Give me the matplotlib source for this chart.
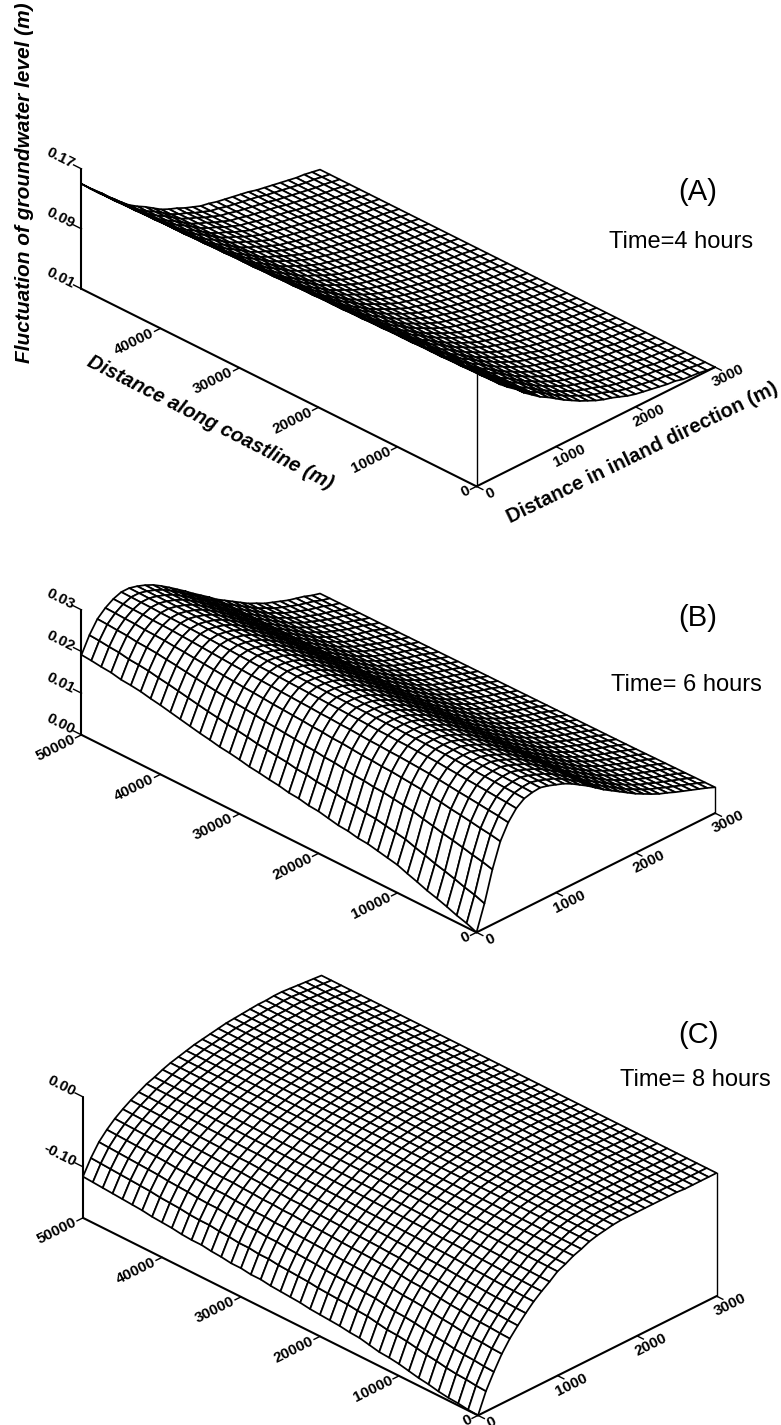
import numpy as np
import matplotlib
matplotlib.use("Agg")
import matplotlib.pyplot as plt

plt.rcParams['font.family'] = ['Liberation Sans', 'DejaVu Sans']

W, H = 781, 1425

# grid lines of the wireframe
coast = np.arange(0, 50001, 1250)
inland = np.arange(0, 3001, 100)

# Panel A, heights read across the surface at x=0 and x=50000, and along y=0
a_near = [.167, .154, .142, .130, .121, .113, .103, .095, .087, .081, .074,
          .067, .061, .055, .050, .045, .041, .038, .034, .030, .027,
          .025, .023, .021, .019, .018, .015, .014, .013, .011, .010]
a_far = [.150, .139, .129, .118, .109, .099, .090, .083, .077, .070, .063,
         .058, .054, .049, .045, .041, .039, .036, .034, .032, .030,
         .028, .025, .023, .021, .019, .017, .015, .014, .012, .010]
a_edge = [.167, .167, .166, .166, .165, .165, .164, .164, .164, .163, .163,
          .163, .162, .162, .161, .161, .160, .160, .160, .159, .159,
          .158, .158, .157, .157, .156, .156, .156, .155, .155, .154,
          .154, .153, .153, .153, .152, .152, .151, .151, .150, .150]

# Panel B
b_near = [0, .0060, .0132, .0190, .0226, .0250, .0264, .0269, .0271, .0266, .0259,
          .0252, .0242, .0230, .0218, .0204, .0190, .0178, .0166, .0154, .0142,
          .0132, .0122, .0113, .0106, .0098, .0091, .0084, .0077, .0070, .0062]
b_far = [.0192, .0230, .0259, .0276, .0288, .0295, .0295, .0290, .0283, .0274, .0262,
         .0249, .0235, .0221, .0206, .0192, .0178, .0163, .0151, .0139, .0127,
         .0115, .0106, .0096, .0089, .0082, .0075, .0070, .0065, .0058, .0053]
b_edge = [0, .0010, .0017, .0026, .0034, .0041, .0050, .0058, .0067, .0072, .0077,
          .0082, .0084, .0089, .0091, .0096, .0101, .0103, .0108, .0110, .0115,
          .0118, .0122, .0125, .0130, .0134, .0137, .0142, .0146, .0151, .0156,
          .0161, .0166, .0170, .0175, .0178, .0180, .0185, .0187, .0190, .0192]

# Panel C
c_near = [-.173, -.144, -.122, -.102, -.086, -.073, -.061, -.050, -.041, -.033, -.024,
          -.019, -.013, -.009, -.004, -.001, .001, .003, .004, .004, .004,
          .004, .004, .004, .004, .004, .003, .003, .003, .003, .003]
c_far = [-.114, -.093, -.076, -.064, -.054, -.046, -.039, -.033, -.027, -.023, -.018,
         -.014, -.011, -.008, -.005, -.003, -.001, .001, .003, .004, .005,
         .006, .007, .007, .008, .008, .007, .006, .005, .004, .003]
c_edge = [-.173, -.172, -.170, -.169, -.167, -.164, -.162, -.159, -.156, -.154, -.153,
          -.150, -.147, -.146, -.144, -.143, -.142, -.141, -.139, -.138, -.137,
          -.136, -.134, -.134, -.132, -.132, -.130, -.129, -.127, -.127, -.126,
          -.124, -.123, -.122, -.120, -.119, -.118, -.117, -.116, -.115, -.114]

coast_ticks = [0, 10000, 20000, 30000, 40000, 50000]
inland_ticks = [0, 1000, 2000, 3000]


def px_text(x, y, s, **kw):
    return fig.text(x / W, 1 - y / H, s, **kw)


def draw_panel(near, far, edge, zlim, zticks, zlabels, cticks, corner, zpx):
    # corner is the pixel of the left end of the base, zpx the height of the z axis in pixels
    sx, sy, sz = 558.6, 337.3, zpx / np.cos(np.radians(30))
    size = np.sqrt(sx**2 + sy**2 + sz**2) / 1.03
    cx = corner[0] + (238.5 + 395) / 2
    cy = corner[1] + (196 - 118) / 2 - zpx / 2
    left = cx - 0.5135 * size
    bottom = H - cy - 0.5135 * size
    ax = fig.add_axes([left / W, bottom / H, size / W, size / H],
                      projection='3d', computed_zorder=False)
    ax.set_proj_type('ortho')
    ax.view_init(elev=30, azim=-45)
    ax.set_box_aspect((sx, sy, sz))
    ax.set_xlim(50000, 0)
    ax.set_ylim(0, 3000)
    ax.set_zlim(*zlim)
    ax.set_axis_off()
    ax.patch.set_alpha(0)

    near = np.array(near)
    far = np.array(far)
    weight = (np.array(edge) - near[0]) / (far[0] - near[0])
    Z = near + weight[:, None] * (far - near)
    X, Y = np.meshgrid(coast, inland, indexing='ij')
    surf = ax.plot_surface(X, Y, Z, rstride=1, cstride=1, color='white', edgecolor='black',
                           linewidth=1.25, shade=False, zorder=1)
    surf.set_clip_on(False)

    z0, z1 = zlim
    thick = dict(color='black', lw=1.5, zorder=3, solid_capstyle='round', clip_on=False)
    thin = dict(color='black', lw=1.0, zorder=3, clip_on=False)
    ax.plot([50000, 0], [0, 0], [z0, z0], **thick)
    ax.plot([0, 0], [0, 3000], [z0, z0], **thick)
    ax.plot([50000, 50000], [0, 0], [z0, z1], **thick)
    # corner posts of the wall under the surface
    ax.plot([0, 0], [0, 0], [z0, near[0]], **thin)
    ax.plot([0, 0], [3000, 3000], [z0, near[-1]], **thin)

    lab = dict(fontsize=11, fontweight='bold', zorder=4, rotation_mode='anchor')
    up_right = (0, 1, 0)
    down_right = (-1, 0, 0)
    for c in cticks:
        ax.plot([c, c], [0, -75], [z0, z0], **thin)
        ax.text(c, -90, z0, str(c), up_right, ha='right', va='center', **lab)
    for i in inland_ticks:
        ax.plot([0, -800], [i, i], [z0, z0], **thin)
        if i == 0:
            ax.text(-1700, 0, z0, '0', up_right, ha='center', va='center', **lab)
        else:
            ax.text(-2000, i - 30, z0, str(i), up_right, ha='center', va='center', **lab)
    for t, s in zip(zticks, zlabels):
        ax.plot([50000, 51000], [0, 0], [t, t], **thin)
        ax.text(51000, 0, t, s, down_right, ha='right', va='center', **lab)


fig = plt.figure(figsize=(W / 100, H / 100), dpi=100)

draw_panel(a_near, a_far, a_edge, (0.01, 0.17), [0.01, 0.09, 0.17], ['0.01', '0.09', '0.17'],
           coast_ticks[:-1], (81.5, 289), 120)
draw_panel(b_near, b_far, b_edge, (0, 0.03), [0, 0.01, 0.02, 0.03], ['0.00', '0.01', '0.02', '0.03'],
           coast_ticks, (81.5, 735), 125)
draw_panel(c_near, c_far, c_edge, (-0.173, 0), [-0.10, 0], ['-0.10', '0.00'],
           coast_ticks, (83, 1218), 121)

title = dict(ha='center', va='center', fontweight='bold', rotation_mode='anchor')
px_text(25, 183, 'Fluctuation of groundwater level (m)', rotation=90, style='italic', fontsize=15, **title)
px_text(210, 423, 'Distance along coastline (m)', rotation=-27, style='italic', fontsize=14.5, **title)
px_text(642, 453, 'Distance in inland direction (m)', rotation=26, fontsize=14.5, **title)

for x, y, s in [(698, 192, '(A)'), (698, 618, '(B)'), (698, 1035, '(C)')]:
    px_text(x, y, s, ha='center', va='center', fontsize=21)
for x, y, s in [(681, 242, 'Time=4 hours'), (686, 685, 'Time= 6 hours'), (695, 1080, 'Time= 8 hours')]:
    px_text(x, y, s, ha='center', va='center', fontsize=17)

fig.savefig('out.png', dpi=100)
